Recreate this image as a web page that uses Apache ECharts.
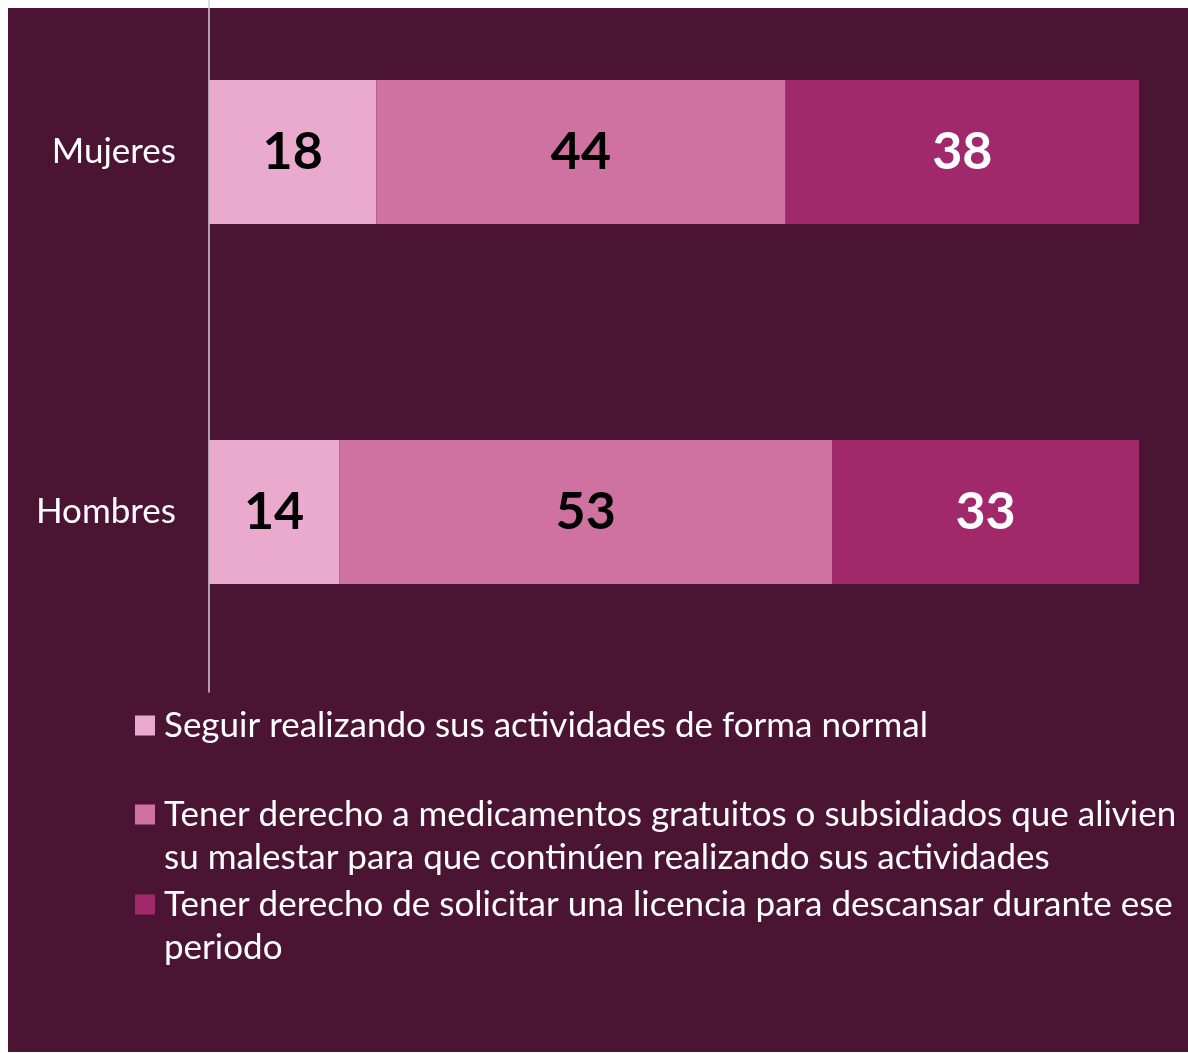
<!DOCTYPE html>
<html>
<head>
<meta charset="utf-8">
<script src="https://cdn.jsdelivr.net/npm/echarts@6/dist/echarts.min.js"></script>
<style>
  html, body { margin: 0; padding: 0; background: #ffffff; overflow: hidden; }
  #panel { position: absolute; left: 8px; top: 8px; width: 1180px; height: 1044px; background: #4c1433; }
  /* chart is shifted up so the category axis can start above the page edge */
  #chart { position: absolute; left: 0; top: -28px; width: 1188px; height: 1081px; }
</style>
</head>
<body>
<div id="panel"></div>
<div id="chart"></div>
<script>
const categories = ['Mujeres', 'Hombres']
const seriesNames = [
  'Seguir realizando sus actividades de forma normal',
  'Tener derecho a medicamentos gratuitos o subsidiados que alivien su malestar para que continúen realizando sus actividades',
  'Tener derecho de solicitar una licencia para descansar durante ese periodo'
]
const legendLines = [
  'Seguir realizando sus actividades de forma normal',
  'Tener derecho a medicamentos gratuitos o subsidiados que alivien\nsu malestar para que continúen realizando sus actividades',
  'Tener derecho de solicitar una licencia para descansar durante ese\nperiodo'
]
const normalValues = [18, 14]
const medicineValues = [44, 53]
const leaveValues = [38, 33]

const colors = ['#eaaacd', '#cf71a1', '#a0286b']
const labelColors = ['#000000', '#000000', '#ffffff']
const fontFamily = 'Lato, "Open Sans", sans-serif'

const chart = echarts.init(document.getElementById('chart'))

const makeSeries = (name, values, i) => ({
  name: name,
  type: 'bar',
  stack: 'total',
  data: values,
  barWidth: 144,
  itemStyle: { color: colors[i] },
  label: {
    show: true,
    position: 'inside',
    color: labelColors[i],
    fontSize: 52,
    fontWeight: 'bold',
    fontFamily: fontFamily
  }
})

// two-line entries get an empty first line so the icon sits next to line one
const legendTops = [732, 778, 868]
const legends = legendLines.map((text, i) => ({
  data: [seriesNames[i]],
  left: 135,
  top: legendTops[i],
  orient: 'vertical',
  padding: 0,
  itemWidth: 20,
  itemHeight: 20,
  itemGap: 9,
  icon: 'rect',
  selectedMode: false,
  formatter: () => (text.indexOf('\n') >= 0 ? ' \n' + text : text),
  textStyle: {
    color: '#ffffff',
    fontSize: 35,
    fontFamily: fontFamily,
    lineHeight: 43,
    padding: [0, 0, 0, 4]
  }
}))

const option = {
  animation: false,
  legend: legends,
  grid: {
    left: 209,
    width: 930,
    top: 0,
    height: 720
  },
  xAxis: {
    type: 'value',
    min: 0,
    max: 100,
    show: false
  },
  yAxis: {
    type: 'category',
    inverse: true,
    data: categories,
    axisLine: { show: true, lineStyle: { color: '#d0d0d0', width: 1.5 } },
    axisTick: { show: false },
    axisLabel: {
      color: '#ffffff',
      fontSize: 35,
      fontFamily: fontFamily,
      margin: 33
    }
  },
  series: [
    makeSeries(seriesNames[0], normalValues, 0),
    makeSeries(seriesNames[1], medicineValues, 1),
    makeSeries(seriesNames[2], leaveValues, 2)
  ]
}

chart.setOption(option)
</script>
</body>
</html>
